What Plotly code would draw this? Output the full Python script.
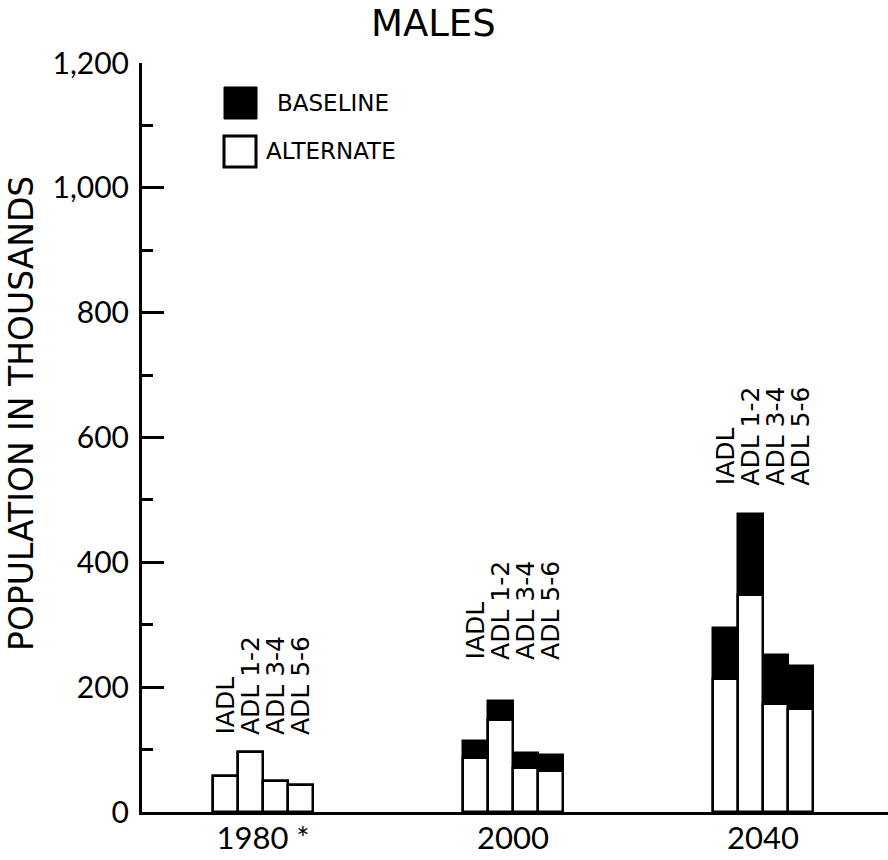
import plotly.graph_objects as go

# ---- data ----
years = ["1980 *", "2000", "2040"]
categories = ["IADL", "ADL 1-2", "ADL 3-4", "ADL 5-6"]
baseline = [
    [57, 96, 50, 43],
    [113, 178, 95, 91],
    [295, 478, 251, 234],
]
alternate = [
    [57, 96, 50, 43],
    [86, 147, 70, 66],
    [213, 348, 173, 165],
]
y_ticks = [0, 200, 400, 600, 800, 1000, 1200]

FONT = "DejaVu Sans"
NUM_FONT = "Lato"
BAR_W = 0.1

xs, base_vals, alt_vals = [], [], []
for gi, yr in enumerate(years):
    for ci, cat in enumerate(categories):
        xs.append(gi + (ci - 1.5) * BAR_W)
        base_vals.append(baseline[gi][ci])
        alt_vals.append(alternate[gi][ci])

fig = go.Figure()
fig.add_trace(go.Bar(
    x=xs, y=base_vals, width=BAR_W, name="BASELINE",
    marker=dict(color="black", line=dict(color="black", width=2.5)),
    showlegend=False,
))
fig.add_trace(go.Bar(
    x=xs, y=alt_vals, width=BAR_W, name="ALTERNATE",
    marker=dict(color="white", line=dict(color="black", width=2.5)),
    showlegend=False,
))

# rotated category labels above each group
label_shift = [15, 39, 26]
annotations = []
for gi in range(len(years)):
    top = max(baseline[gi])
    for ci, cat in enumerate(categories):
        annotations.append(dict(
            x=gi + (ci - 1.5) * BAR_W, y=top, xref="x", yref="y",
            text=cat, textangle=-90, showarrow=False,
            xanchor="center", yanchor="bottom", yshift=label_shift[gi],
            font=dict(family=FONT, size=25, color="black"),
        ))

# plot geometry (pixels) for layout helpers
L, R, T, B = 142, 0, 63, 48
PW, PH = 888 - L - R, 860 - T - B


def px(xp):
    return (xp - L) / PW


def py(yp):
    return (860 - B - yp) / PH


# title
annotations.append(dict(
    x=px(433), y=py(23), xref="paper", yref="paper", text="MALES",
    showarrow=False, xanchor="center", yanchor="middle",
    font=dict(family=FONT, size=37, color="black"),
))
# y axis title
annotations.append(dict(
    x=px(22), y=py(414), xref="paper", yref="paper",
    text="POPULATION IN THOUSANDS", textangle=-90, showarrow=False,
    xanchor="center", yanchor="middle",
    font=dict(family=FONT, size=33, color="black"),
))
# legend text
annotations.append(dict(
    x=px(275), y=py(103), xref="paper", yref="paper", text="BASELINE",
    showarrow=False, xanchor="left", yanchor="middle",
    font=dict(family=FONT, size=23, color="black"),
))
annotations.append(dict(
    x=px(264), y=py(151), xref="paper", yref="paper", text="ALTERNATE",
    showarrow=False, xanchor="left", yanchor="middle",
    font=dict(family=FONT, size=23, color="black"),
))

shapes = [
    dict(type="rect", xref="paper", yref="paper",
         x0=px(224), x1=px(257), y0=py(119), y1=py(87),
         fillcolor="black", line=dict(color="black", width=1)),
    dict(type="rect", xref="paper", yref="paper",
         x0=px(224), x1=px(256), y0=py(167), y1=py(136),
         fillcolor="white", line=dict(color="black", width=3)),
]

fig.update_layout(
    width=888, height=860,
    margin=dict(l=L, r=R, t=T, b=B),
    paper_bgcolor="white", plot_bgcolor="white",
    barmode="overlay", bargap=0,
    annotations=annotations, shapes=shapes,
    showlegend=False,
    font=dict(family=FONT, color="black"),
    xaxis=dict(
        range=[-0.484, 2.5], tickvals=list(range(len(years))), ticktext=years,
        showline=True, linecolor="black", linewidth=3, ticks="",
        showgrid=False, zeroline=False,
        tickfont=dict(family=NUM_FONT, size=31, color="black"),
        ticklabelstandoff=-3,
    ),
    yaxis=dict(
        range=[0, 1200], tickvals=y_ticks, tickformat=",d",
        showline=True, linecolor="black", linewidth=3,
        ticks="inside", ticklen=22, tickwidth=3, tickcolor="black",
        minor=dict(dtick=100, ticks="inside", ticklen=11, tickwidth=3, tickcolor="black"),
        showgrid=False, zeroline=False,
        tickfont=dict(family=NUM_FONT, size=30, color="black"),
        ticklabelstandoff=4,
    ),
)

fig.write_html(
    "out.html",
    config={"displayModeBar": False},
    post_script="document.body.style.margin='0px';document.body.style.overflow='hidden';",
)
